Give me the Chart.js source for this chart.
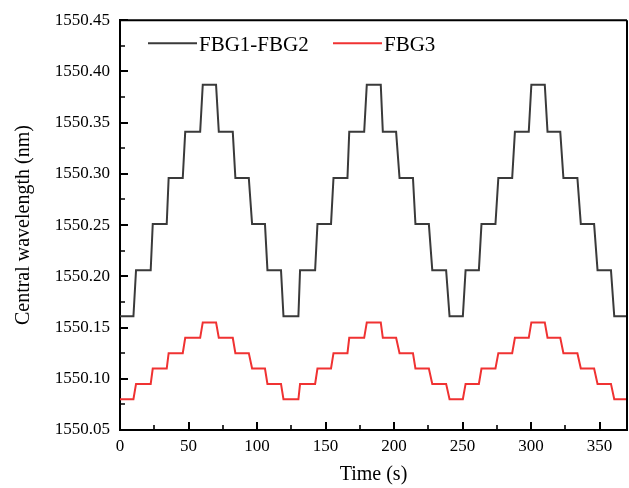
<!DOCTYPE html>
<html>
<head>
<meta charset="utf-8">
<script src="https://cdn.jsdelivr.net/npm/chart.js@4.4.1/dist/chart.umd.min.js"></script>
<style>
  html, body { margin: 0; padding: 0; background: #ffffff; }
  #wrap { width: 629px; height: 488px; }
</style>
</head>
<body>
<div id="wrap"><canvas id="c" width="629" height="488"></canvas></div>
<script>
// ---- data ----
const seriesNames = ['FBG1-FBG2', 'FBG3'];
const times = [0, 9.8, 11.7, 22.4, 23.9, 34.1, 35.5, 45.8, 47.6, 58.5, 60.4,
  70.1, 72.1, 82.3, 84.2, 94.0, 96.4, 105.8, 107.6, 117.5, 119.3,
  130.2, 131.4, 142.4, 144.1, 154.0, 155.8, 166.0, 167.3, 178.2, 180.1,
  190.3, 191.8, 201.5, 204.0, 213.8, 215.6, 225.4, 227.9, 238.0, 240.5,
  250.2, 252.2, 261.9, 263.8, 274.0, 276.1, 286.2, 288.2, 298.3, 300.2,
  310.0, 312.0, 321.3, 323.6, 333.8, 336.3, 346.0, 348.5, 358.3, 360.7, 370];
const fbg12 = [1550.161,
  1550.161, 1550.206, 1550.206, 1550.251, 1550.251, 1550.296, 1550.296, 1550.341, 1550.341, 1550.387,
  1550.387, 1550.341, 1550.341, 1550.296, 1550.296, 1550.251, 1550.251, 1550.206, 1550.206, 1550.161,
  1550.161, 1550.206, 1550.206, 1550.251, 1550.251, 1550.296, 1550.296, 1550.341, 1550.341, 1550.387,
  1550.387, 1550.341, 1550.341, 1550.296, 1550.296, 1550.251, 1550.251, 1550.206, 1550.206, 1550.161,
  1550.161, 1550.206, 1550.206, 1550.251, 1550.251, 1550.296, 1550.296, 1550.341, 1550.341, 1550.387,
  1550.387, 1550.341, 1550.341, 1550.296, 1550.296, 1550.251, 1550.251, 1550.206, 1550.206, 1550.161,
  1550.161];
const fbg3 = [1550.080,
  1550.080, 1550.095, 1550.095, 1550.110, 1550.110, 1550.125, 1550.125, 1550.140, 1550.140, 1550.155,
  1550.155, 1550.140, 1550.140, 1550.125, 1550.125, 1550.110, 1550.110, 1550.095, 1550.095, 1550.080,
  1550.080, 1550.095, 1550.095, 1550.110, 1550.110, 1550.125, 1550.125, 1550.140, 1550.140, 1550.155,
  1550.155, 1550.140, 1550.140, 1550.125, 1550.125, 1550.110, 1550.110, 1550.095, 1550.095, 1550.080,
  1550.080, 1550.095, 1550.095, 1550.110, 1550.110, 1550.125, 1550.125, 1550.140, 1550.140, 1550.155,
  1550.155, 1550.140, 1550.140, 1550.125, 1550.125, 1550.110, 1550.110, 1550.095, 1550.095, 1550.080,
  1550.080];
const xTickValues = [0, 50, 100, 150, 200, 250, 300, 350];
const xMinorValues = [25, 75, 125, 175, 225, 275, 325];
const yTickValues = [1550.05, 1550.10, 1550.15, 1550.20, 1550.25, 1550.30, 1550.35, 1550.40, 1550.45];
const yMinorValues = [1550.075, 1550.125, 1550.175, 1550.225, 1550.275, 1550.325, 1550.375, 1550.425];
const xTitle = 'Time (s)';
const yTitle = 'Central wavelength (nm)';

const FONT = "'Liberation Serif', 'Times New Roman', serif";
const colors = ['#3a3a3a', '#f03232'];

function pts(xs, ys) { return xs.map((x, i) => ({ x: x, y: ys[i] })); }

const framePlugin = {
  id: 'frameTicks',
  afterDraw(chart) {
    const ctx = chart.ctx;
    const a = chart.chartArea;
    const xs = chart.scales.x, ys = chart.scales.y;
    ctx.save();
    ctx.strokeStyle = '#000';
    ctx.lineWidth = 2;
    ctx.beginPath();
    ctx.moveTo(a.left, a.top); ctx.lineTo(a.right, a.top);
    ctx.moveTo(a.right, a.top); ctx.lineTo(a.right, a.bottom + 1);
    ctx.stroke();
    // major ticks (inward)
    ctx.beginPath();
    xTickValues.forEach(v => { const px = Math.round(xs.getPixelForValue(v)); ctx.moveTo(px, a.bottom); ctx.lineTo(px, a.bottom - 8); });
    yTickValues.forEach(v => { const py = Math.round(ys.getPixelForValue(v)); ctx.moveTo(a.left, py); ctx.lineTo(a.left + 8, py); });
    ctx.stroke();
    // minor ticks
    ctx.lineWidth = 1.6;
    ctx.beginPath();
    xMinorValues.forEach(v => { const px = Math.round(xs.getPixelForValue(v)); ctx.moveTo(px, a.bottom); ctx.lineTo(px, a.bottom - 5); });
    yMinorValues.forEach(v => { const py = Math.round(ys.getPixelForValue(v)); ctx.moveTo(a.left, py); ctx.lineTo(a.left + 5, py); });
    ctx.stroke();
    // legend inside plot area
    const legendX = [a.left + 28, a.left + 213];
    const ly = a.top + 23;
    ctx.font = "21px " + FONT;
    ctx.textBaseline = 'alphabetic';
    ctx.textAlign = 'left';
    chart.data.datasets.forEach((ds, i) => {
      ctx.strokeStyle = ds.borderColor;
      ctx.lineWidth = 2;
      ctx.beginPath();
      ctx.moveTo(legendX[i], ly); ctx.lineTo(legendX[i] + 49, ly);
      ctx.stroke();
      ctx.fillStyle = '#000';
      ctx.fillText(ds.label, legendX[i] + 51, ly + 8);
    });
    ctx.restore();
  }
};

new Chart(document.getElementById('c'), {
  type: 'line',
  data: {
    datasets: [
      { label: seriesNames[0], data: pts(times, fbg12), borderColor: colors[0], borderWidth: 2, pointRadius: 0, tension: 0, fill: false },
      { label: seriesNames[1], data: pts(times, fbg3), borderColor: colors[1], borderWidth: 2, pointRadius: 0, tension: 0, fill: false }
    ]
  },
  options: {
    responsive: false,
    animation: false,
    devicePixelRatio: 1,
    layout: { padding: { left: 0, right: 2, top: 20, bottom: 0 } },
    plugins: { legend: { display: false }, tooltip: { enabled: false } },
    scales: {
      x: {
        type: 'linear',
        min: 0, max: 370,
        afterBuildTicks: s => { s.ticks = xTickValues.map(v => ({ value: v })); },
        afterFit: s => { s.height = 58; },
        grid: { display: false, drawTicks: false },
        border: { display: true, color: '#000', width: 2 },
        ticks: { padding: 6, color: '#000', font: { family: FONT, size: 17 }, maxRotation: 0, callback: v => String(v) },
        title: { display: true, text: xTitle, color: '#000', font: { family: FONT, size: 20 }, padding: { top: 0, bottom: 1 } }
      },
      y: {
        type: 'linear',
        min: 1550.05, max: 1550.45,
        afterBuildTicks: s => { s.ticks = yTickValues.map(v => ({ value: v })); },
        afterFit: s => { s.width = 120; },
        grid: { display: false, drawTicks: false },
        border: { display: true, color: '#000', width: 2 },
        ticks: { padding: 10, color: '#000', font: { family: FONT, size: 17 }, callback: v => Number(v).toFixed(2) },
        title: { display: true, text: yTitle, color: '#000', font: { family: FONT, size: 20 }, padding: { top: 12, bottom: 0 } }
      }
    }
  },
  plugins: [framePlugin]
});
</script>
</body>
</html>
